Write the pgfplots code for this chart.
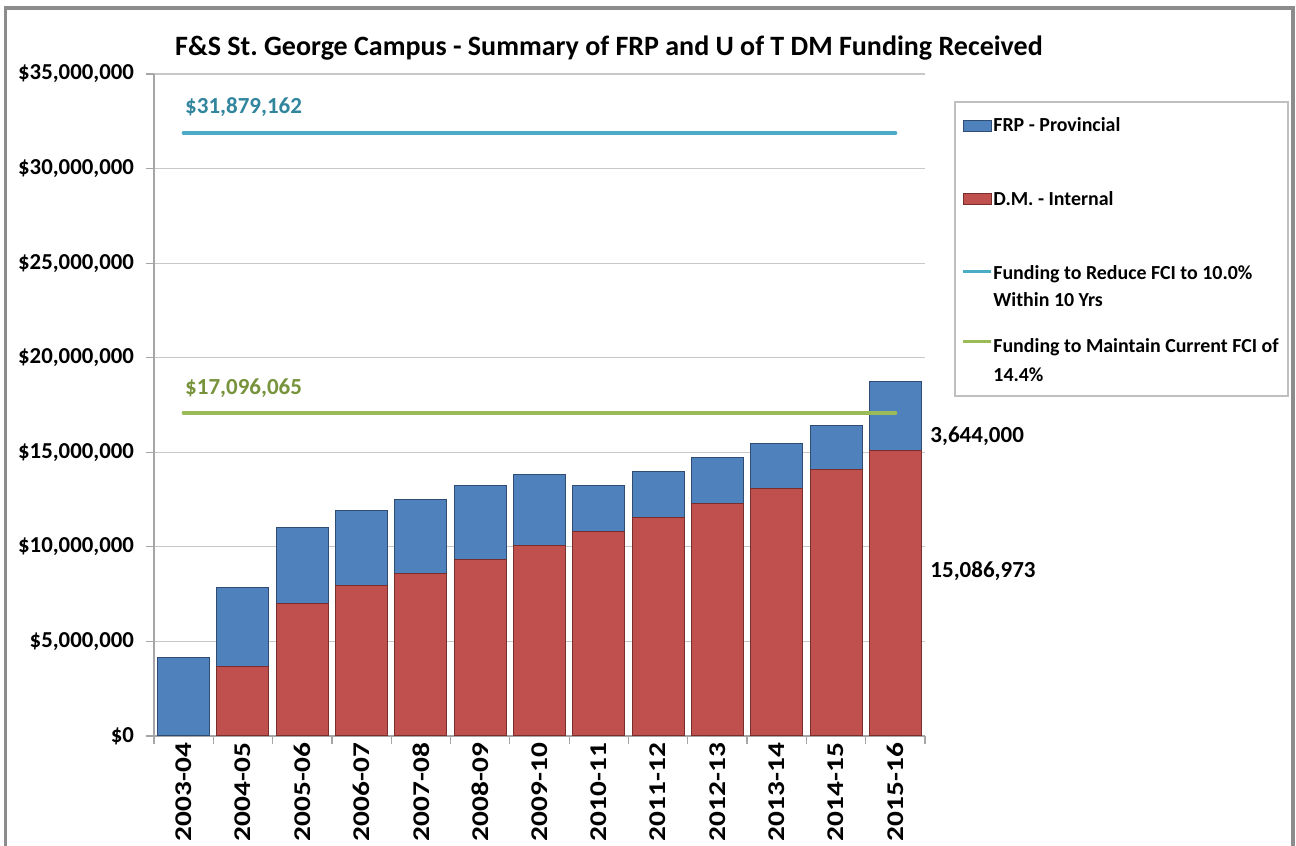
\documentclass[border=0pt]{standalone}
\usepackage{pgfplots}
\pgfplotsset{compat=1.18}
\usepackage{pgfplotstable}
\usepackage{fontspec}
\setmainfont{Carlito}
\newfontfamily\stretchfont{Carlito}[FakeStretch=1.22]
\frenchspacing
\definecolor{frpblue}{HTML}{4F81BD}
\definecolor{frpedge}{HTML}{2F4D73}
\definecolor{dmred}{HTML}{C0504D}
\definecolor{dmedge}{HTML}{7A2E2C}
\definecolor{cyanline}{HTML}{4BACC6}
\definecolor{greenline}{HTML}{9BBB59}
\definecolor{cyantext}{HTML}{31859C}
\definecolor{greentext}{HTML}{77933C}
\definecolor{gridgray}{HTML}{C8C8C8}
\definecolor{axisgray}{HTML}{A6A6A6}
\definecolor{legendgray}{HTML}{BFBFBF}
\definecolor{framegray}{HTML}{8C8C8C}

\pgfplotstableread{
x dm frp
0 0 4160000
1 3670000 4170000
2 6990000 4020000
3 7970000 3930000
4 8580000 3900000
5 9320000 3930000
6 10080000 3770000
7 10820000 2430000
8 11560000 2450000
9 12300000 2450000
10 13100000 2340000
11 14100000 2340000
12 15086973 3644000
}\fundtable

\pgfplotstableread{
x reduce maintain
0 31879162 17096065
12 31879162 17096065
}\linetable

\begin{document}
\begin{tikzpicture}
\useasboundingbox (0,0) rectangle (648pt,423pt);
\draw[framegray, line width=1.6pt] (2.75pt,-5pt) -- (2.75pt,419pt) -- (646.5pt,419pt) -- (646.5pt,-5pt);
\node[font=\fontsize{14}{16}\selectfont\bfseries, anchor=center] at (304.5pt,399pt) {F\&S St. George Campus - Summary of FRP and U of T DM Funding Received};

\begin{axis}[
  width=385.5pt, height=331pt, scale only axis,
  at={(77pt,55pt)}, anchor=south west,
  xmin=-0.5, xmax=12.5, ymin=0, ymax=35000000,
  ybar stacked, bar width=0.877,
  xtick={-0.5,0.5,...,12.5}, xticklabels={},
  ytick={0,5000000,...,35000000},
  scaled y ticks=false,
  /pgf/number format/assume math mode=true,
  yticklabel={\$\pgfmathprintnumber[fixed,precision=0,1000 sep={,}]{\tick}},
  y tick label style={font=\fontsize{11.4}{13}\selectfont\bfseries, xshift=-2.5pt},
  axis x line*=bottom, axis y line*=left,
  axis line style={draw=axisgray, line width=0.6pt},
  ymajorgrids, grid style={draw=gridgray, line width=0.6pt},
  tick align=outside, major tick length=4pt,
  tick style={draw=axisgray, line width=0.6pt},
]
\addplot[fill=dmred, draw=dmedge, line width=0.5pt] table[x=x, y=dm]{\fundtable};
\addplot[fill=frpblue, draw=frpedge, line width=0.5pt] table[x=x, y=frp]{\fundtable};
\end{axis}

\begin{axis}[
  width=385.5pt, height=331pt, scale only axis,
  at={(77pt,55pt)}, anchor=south west,
  xmin=-0.5, xmax=12.5, ymin=0, ymax=35000000,
  clip=false,
  axis x line*=bottom, axis y line=none,
  axis line style={draw=none},
  xtick={0,...,12},
  xticklabels={2003-04,2004-05,2005-06,2006-07,2007-08,2008-09,2009-10,2010-11,2011-12,2012-13,2013-14,2014-15,2015-16},
  xtick style={draw=none},
  x tick label style={rotate=90, anchor=east, font=\stretchfont\fontsize{12}{14}\selectfont\bfseries},
  ytick=\empty,
]
\addplot[cyanline, line width=2pt, line cap=round] table[x=x, y=reduce]{\linetable};
\addplot[greenline, line width=2pt, line cap=round] table[x=x, y=maintain]{\linetable};

\node[anchor=west, inner sep=0pt, text=cyantext, font=\fontsize{11.5}{13}\selectfont\bfseries] at (axis cs:0.02,33260000) {\$31,879,162};
\node[anchor=west, inner sep=0pt, text=greentext, font=\fontsize{11.5}{13}\selectfont\bfseries] at (axis cs:0.02,18400000) {\$17,096,065};
\node[anchor=west, inner sep=0pt, font=\fontsize{11.5}{13}\selectfont\bfseries] at (axis cs:12.585,15860000) {3,644,000};
\node[anchor=west, inner sep=0pt, font=\fontsize{11.5}{13}\selectfont\bfseries] at (axis cs:12.585,8720000) {15,086,973};
\end{axis}

% legend
\draw[legendgray, line width=0.6pt, fill=white] (477.5pt,225pt) rectangle (644pt,372pt);
\draw[fill=frpblue, draw=frpedge, line width=0.5pt] (481.5pt,357.25pt) rectangle (495.5pt,362.75pt);
\draw[fill=dmred, draw=dmedge, line width=0.5pt] (481.5pt,320.75pt) rectangle (495.5pt,326.25pt);
\draw[cyanline, line width=1.5pt] (481.5pt,287pt) -- (495.5pt,287pt);
\draw[greenline, line width=1.5pt] (481.5pt,252pt) -- (495.5pt,252pt);
\begin{scope}[every node/.style={anchor=west, inner sep=0pt, text height=6.4pt, text depth=0pt, font=\fontsize{9.95}{12}\selectfont\bfseries}]
\node at (496.5pt,360.5pt) {FRP - Provincial};
\node at (496.5pt,323.5pt) {D.M. - Internal};
\node at (496.5pt,286.5pt) {Funding to Reduce FCI to 10.0\%};
\node at (496.5pt,273pt) {Within 10 Yrs};
\node at (496.5pt,249.7pt) {Funding to Maintain Current FCI of};
\node at (496.5pt,235.5pt) {14.4\%};
\end{scope}
\end{tikzpicture}
\end{document}
